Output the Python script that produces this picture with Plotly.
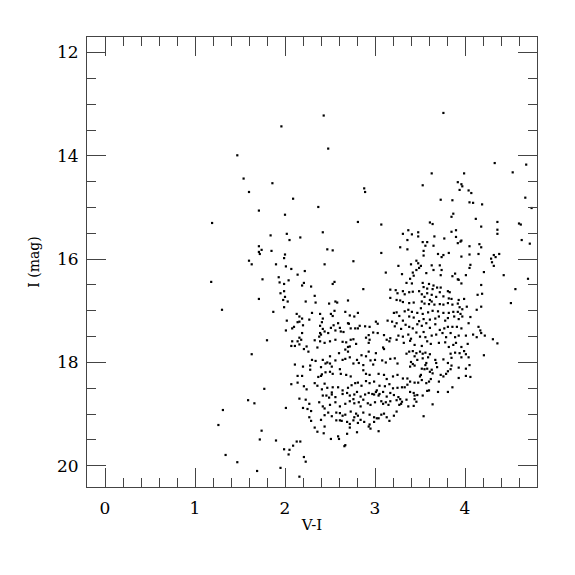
import plotly.graph_objects as go

# (V-I, I) pairs, grouped by region of the diagram
sparse_stars = [
    (1.96, 13.43), (2.43, 13.22), (3.76, 13.17),
    (1.47, 13.99), (1.54, 14.44), (1.60, 14.70), (1.71, 15.06), (1.19, 15.30),
    (1.71, 15.75), (1.74, 15.82), (1.71, 15.86), (1.72, 15.90), (1.60, 16.03),
    (1.63, 16.10), (1.75, 16.39), (1.18, 16.44), (1.71, 16.77), (1.30, 16.98),
    (1.80, 17.57), (1.63, 17.84), (1.77, 18.51), (1.59, 18.73), (1.66, 18.79),
    (1.31, 18.92), (1.26, 19.21), (1.74, 19.32), (1.72, 19.49), (1.34, 19.79),
    (1.47, 19.93), (1.69, 20.10), (1.90, 19.51), (1.95, 20.04), (2.16, 20.21),
    (3.04, 19.33),
    (2.48, 13.86), (1.86, 14.53), (2.88, 14.63), (2.89, 14.70), (2.09, 14.83),
    (2.37, 14.99), (2.00, 15.14), (2.81, 15.28), (3.07, 15.33), (2.42, 15.48),
    (1.84, 15.54), (2.02, 15.51), (2.05, 15.63), (2.17, 15.58), (2.47, 15.81),
    (2.53, 15.83), (1.85, 15.84), (2.00, 15.91), (1.99, 15.98), (3.07, 15.88),
    (1.90, 16.10), (2.01, 16.14), (2.07, 16.19), (2.44, 16.10), (2.76, 16.04),
]

upper_blue = [
    (1.93, 16.35), (1.94, 16.45), (1.99, 16.48), (2.04, 16.41), (2.14, 16.30),
    (2.22, 16.23), (2.21, 16.46), (2.19, 16.51), (2.29, 16.53), (2.55, 16.44),
    (2.53, 16.48), (3.12, 16.26), (2.87, 16.58), (3.17, 16.59), (3.23, 16.60),
    (3.25, 16.66), (1.95, 16.66), (1.99, 16.62), (2.00, 16.73), (1.98, 16.79),
    (2.03, 16.82), (2.33, 16.71), (2.34, 16.84), (2.23, 16.82), (2.49, 16.86),
    (2.56, 16.82), (2.58, 16.84), (2.70, 16.80), (3.17, 16.75), (3.24, 16.79),
    (1.99, 16.93), (1.87, 17.02), (2.13, 17.06), (2.16, 17.11), (2.19, 17.15),
    (2.16, 17.21), (2.14, 17.22), (2.02, 17.19), (2.30, 17.04), (2.27, 17.17),
    (2.39, 17.06), (2.42, 17.15), (2.41, 17.22), (2.39, 17.29), (2.51, 17.06),
    (2.55, 17.00), (2.53, 17.10), (2.67, 17.02), (2.72, 17.09), (2.81, 17.04),
    (2.77, 17.11), (2.70, 17.24), (2.71, 17.25), (2.59, 17.24), (2.54, 17.28),
    (2.62, 17.40), (2.56, 17.38), (2.61, 17.33), (2.51, 17.33), (2.65, 17.41),
    (2.73, 17.34), (2.78, 17.34), (2.81, 17.34), (2.83, 17.29), (2.89, 17.30),
    (2.94, 17.31), (3.01, 17.21), (3.03, 17.25), (3.14, 17.19), (3.19, 17.21),
    (3.21, 17.04), (3.24, 17.03), (3.27, 17.10), (3.24, 17.24), (3.22, 17.30),
    (2.01, 17.38), (2.08, 17.34), (2.10, 17.31), (2.20, 17.28), (2.19, 17.43),
    (2.16, 17.52), (2.18, 17.56), (2.14, 17.59), (2.08, 17.59), (2.16, 17.65),
    (2.11, 17.68), (2.07, 17.68), (2.24, 17.69), (2.21, 17.74), (2.26, 17.79),
    (2.39, 17.43), (2.38, 17.50), (2.40, 17.46), (2.42, 17.35), (2.44, 17.40),
    (2.48, 17.43), (2.44, 17.62), (2.39, 17.59), (2.33, 17.57), (2.36, 17.71),
    (2.50, 17.59), (2.56, 17.56), (2.64, 17.60), (2.70, 17.70), (2.72, 17.69),
    (2.68, 17.61), (2.73, 17.56), (2.76, 17.55), (2.79, 17.64), (2.90, 17.52),
    (2.93, 17.47), (2.93, 17.62), (2.98, 17.42), (3.03, 17.43), (2.94, 17.56),
    (3.10, 17.47), (3.13, 17.56), (3.16, 17.59), (3.17, 17.53), (3.24, 17.56),
    (3.26, 17.48), (3.09, 17.71), (3.10, 17.74), (3.01, 17.82), (2.93, 17.79),
    (2.90, 17.88), (2.85, 17.86), (2.80, 17.95), (2.72, 17.90), (2.70, 17.79),
    (2.67, 17.75), (2.60, 17.82), (2.56, 17.96), (2.50, 17.88), (2.47, 18.00),
    (2.45, 18.02), (2.42, 17.95), (2.34, 17.97), (2.30, 17.95), (2.28, 18.06),
    (2.20, 18.08), (2.11, 18.04), (2.61, 18.13), (2.64, 17.95), (2.67, 17.93),
    (2.76, 18.02), (2.82, 18.01), (2.87, 18.05), (2.95, 17.96), (3.00, 17.95),
    (2.98, 18.04), (3.08, 17.96), (3.12, 18.00), (3.17, 17.93), (3.22, 17.92),
    (3.25, 18.02), (2.40, 18.09), (2.50, 18.02), (2.52, 18.08),
]

lower_blue = [
    (2.28, 18.14), (2.41, 18.23), (2.45, 18.19), (2.50, 18.18), (2.53, 18.22),
    (2.37, 18.28), (2.40, 18.26), (2.62, 18.22), (2.68, 18.24), (2.73, 18.27),
    (2.87, 18.15), (2.90, 18.22), (2.94, 18.24), (3.04, 18.22), (3.10, 18.24),
    (3.13, 18.32), (3.20, 18.27), (3.25, 18.24), (2.14, 18.26), (2.19, 18.26),
    (2.14, 18.39), (2.07, 18.42), (2.21, 18.46), (2.24, 18.52), (2.33, 18.40),
    (2.36, 18.45), (2.44, 18.41), (2.41, 18.52), (2.47, 18.49), (2.53, 18.48),
    (2.52, 18.58), (2.59, 18.48), (2.64, 18.54), (2.70, 18.49), (2.74, 18.44),
    (2.78, 18.40), (2.81, 18.39), (2.85, 18.45), (2.90, 18.36), (2.94, 18.40),
    (2.99, 18.37), (3.05, 18.45), (3.11, 18.46), (3.16, 18.42), (3.20, 18.50),
    (3.25, 18.49), (2.42, 18.64), (2.46, 18.64), (2.49, 18.68), (2.52, 18.62),
    (2.56, 18.67), (2.64, 18.61), (2.69, 18.59), (2.72, 18.64), (2.77, 18.62),
    (2.80, 18.57), (2.84, 18.66), (2.89, 18.62), (2.93, 18.59), (2.97, 18.61),
    (2.99, 18.62), (3.01, 18.57), (3.02, 18.54), (3.04, 18.64), (3.05, 18.61),
    (3.09, 18.57), (3.13, 18.66), (3.17, 18.59), (3.21, 18.63), (3.26, 18.67),
    (2.16, 18.70), (2.23, 18.72), (2.27, 18.80), (2.20, 18.88), (2.25, 18.90),
    (2.29, 18.94), (2.38, 18.77), (2.42, 18.85), (2.44, 18.89), (2.50, 18.82),
    (2.56, 18.77), (2.61, 18.85), (2.67, 18.80), (2.72, 18.75), (2.76, 18.71),
    (2.77, 18.79), (2.82, 18.77), (2.84, 18.85), (2.87, 18.72), (2.92, 18.79),
    (2.95, 18.82), (3.00, 18.77), (3.07, 18.75), (3.09, 18.80), (3.12, 18.77),
    (3.15, 18.82), (3.17, 18.75), (3.24, 18.73), (3.27, 18.82), (2.01, 18.88),
    (2.27, 19.06), (2.29, 19.13), (2.40, 19.11), (2.44, 19.02), (2.48, 18.97),
    (2.52, 19.04), (2.57, 18.97), (2.61, 18.98), (2.64, 19.03), (2.67, 19.01),
    (2.73, 18.95), (2.77, 19.06), (2.79, 18.99), (2.81, 19.03), (2.87, 18.97),
    (2.94, 19.01), (2.99, 19.06), (3.04, 19.08), (3.07, 19.01), (3.10, 18.99),
    (3.13, 19.06), (3.16, 19.13), (3.21, 19.03), (3.24, 18.95), (2.57, 19.12),
    (2.63, 19.13), (2.69, 19.15), (2.72, 19.19), (2.76, 19.12), (2.81, 19.17),
    (2.84, 19.11), (2.88, 19.15), (2.94, 19.20), (2.95, 19.28), (2.93, 19.24),
    (2.99, 19.15), (3.02, 19.08), (2.72, 19.26), (2.80, 19.35), (2.69, 19.38),
    (2.61, 19.12), (2.33, 19.26), (2.36, 19.34), (2.44, 19.24), (2.43, 19.37),
    (2.51, 19.48), (2.59, 19.43), (2.60, 19.48), (2.67, 19.60), (2.66, 19.62),
    (2.13, 19.53), (2.17, 19.53), (2.09, 19.61), (2.05, 19.69), (1.99, 19.68),
    (2.04, 19.78), (2.21, 19.83), (2.23, 19.92),
]

red_upper = [
    (4.33, 14.14), (4.68, 14.17), (3.63, 14.34), (3.99, 14.34), (4.53, 14.32),
    (3.92, 14.51), (3.96, 14.55), (3.97, 14.59), (3.53, 14.57), (3.94, 14.66),
    (4.04, 14.67), (4.07, 14.72), (4.67, 14.81), (3.73, 14.85), (3.86, 14.86),
    (4.05, 14.90), (4.09, 14.91), (4.19, 14.94), (4.74, 15.01), (3.87, 15.12),
    (3.85, 15.18), (4.12, 15.22), (3.61, 15.29), (3.64, 15.32), (4.36, 15.28),
    (4.60, 15.31), (4.62, 15.33), (4.18, 15.37), (3.37, 15.44), (3.90, 15.44),
    (3.85, 15.47), (4.36, 15.43), (3.31, 15.51), (3.41, 15.52), (3.48, 15.48),
    (4.36, 15.51), (3.66, 15.56), (3.48, 15.56), (3.90, 15.57), (3.77, 15.60),
    (3.36, 15.63), (3.96, 15.64), (3.95, 15.66), (3.92, 15.69), (3.53, 15.67),
    (3.58, 15.67), (3.56, 15.74), (3.65, 15.74), (4.63, 15.63), (4.72, 15.70),
    (3.28, 15.77), (3.36, 15.81), (4.05, 15.75), (4.16, 15.71), (4.18, 15.77),
    (3.54, 15.84), (3.82, 15.88), (3.70, 15.90), (3.76, 15.92), (4.05, 15.91),
    (4.15, 15.90), (4.32, 15.92), (4.38, 15.90), (3.54, 15.93), (3.74, 15.96),
    (3.96, 15.95), (4.29, 15.99), (4.34, 15.96),
]

red_middle = [
    (4.30, 16.06), (4.32, 16.13), (3.46, 16.03), (3.48, 16.08), (3.40, 16.10),
    (3.51, 16.13), (3.49, 16.17), (3.63, 16.12), (3.72, 16.12), (3.65, 16.21),
    (3.74, 16.21), (3.57, 16.27), (3.46, 16.21), (3.42, 16.26), (3.26, 16.13),
    (3.30, 16.29), (4.06, 16.11), (4.05, 16.17), (4.21, 16.25), (4.43, 16.31),
    (4.70, 16.38), (3.43, 16.32), (3.73, 16.31), (3.86, 16.33), (3.89, 16.28),
    (3.92, 16.39), (4.01, 16.31), (3.96, 16.47), (3.93, 16.40), (3.39, 16.38),
    (3.41, 16.47), (3.35, 16.46), (3.53, 16.46), (3.60, 16.48), (3.65, 16.51),
    (3.54, 16.54), (3.58, 16.57), (3.64, 16.58), (3.69, 16.55), (3.73, 16.55),
    (3.81, 16.62), (3.83, 16.64), (3.72, 16.64), (4.18, 16.50), (4.56, 16.58),
    (3.31, 16.62), (3.33, 16.68), (3.38, 16.64), (3.42, 16.63), (3.49, 16.62),
    (3.52, 16.68), (3.58, 16.66), (3.63, 16.69), (3.55, 16.73), (3.61, 16.79),
    (3.63, 16.82), (3.68, 16.73), (3.76, 16.72), (3.82, 16.76), (3.85, 16.77),
    (3.93, 16.79), (3.99, 16.77), (4.14, 16.69), (4.19, 16.67), (4.51, 16.85),
    (3.28, 16.80), (3.31, 16.83), (3.38, 16.85), (3.43, 16.84), (3.52, 16.82),
    (3.55, 16.86), (3.60, 16.87), (3.66, 16.88), (3.72, 16.87), (3.76, 16.88),
    (3.81, 16.85), (3.86, 16.88), (3.92, 16.86), (3.94, 16.93), (3.97, 16.97),
    (4.02, 16.92), (4.13, 16.98), (4.18, 16.92), (3.33, 17.01), (3.37, 16.98),
    (3.41, 17.02), (3.47, 17.04), (3.51, 16.95), (3.53, 17.06), (3.59, 17.03),
    (3.64, 17.00), (3.70, 17.01), (3.76, 17.04), (3.82, 17.04), (3.87, 17.02),
    (3.92, 17.02), (3.95, 17.06), (4.06, 17.12), (3.31, 17.19), (3.38, 17.11),
    (3.43, 17.13), (3.49, 17.20), (3.54, 17.16), (3.61, 17.17), (3.67, 17.15),
    (3.71, 17.11), (3.78, 17.19), (3.81, 17.14), (3.88, 17.11), (3.93, 17.16),
    (3.97, 17.11), (3.29, 17.35), (3.34, 17.27), (3.38, 17.31), (3.42, 17.34),
    (3.47, 17.26), (3.52, 17.29), (3.57, 17.24), (3.61, 17.33), (3.67, 17.26),
    (3.72, 17.37), (3.77, 17.34), (3.81, 17.31), (3.86, 17.31), (3.91, 17.31),
    (3.96, 17.34), (4.04, 17.24), (4.15, 17.31), (4.17, 17.38), (4.18, 17.43),
    (4.09, 17.46), (4.13, 17.51), (4.22, 17.48), (4.31, 17.55), (4.36, 17.63),
    (3.31, 17.50), (3.37, 17.46), (3.40, 17.54), (3.46, 17.42), (3.50, 17.50),
    (3.54, 17.41), (3.56, 17.51), (3.63, 17.48), (3.68, 17.46), (3.75, 17.43),
    (3.79, 17.51), (3.84, 17.43), (3.89, 17.51), (3.93, 17.48), (4.01, 17.48),
    (3.32, 17.62), (3.39, 17.58), (3.44, 17.66), (3.52, 17.68), (3.58, 17.59),
    (3.62, 17.64), (3.71, 17.62), (3.78, 17.61), (3.82, 17.70), (3.87, 17.66),
    (3.90, 17.62), (3.96, 17.70), (4.03, 17.64),
]

red_lower = [
    (3.35, 17.83), (3.38, 17.79), (3.42, 17.78), (3.46, 17.82), (3.50, 17.79),
    (3.53, 17.83), (3.56, 17.81), (3.59, 17.90), (3.61, 17.84), (3.44, 17.88),
    (3.40, 17.99), (3.42, 18.03), (3.39, 18.08), (3.44, 18.06), (3.47, 17.95),
    (3.53, 17.92), (3.57, 18.01), (3.56, 18.05), (3.52, 18.12), (3.55, 18.13),
    (3.58, 18.12), (3.61, 18.18), (3.63, 18.14), (3.67, 17.95), (3.68, 18.01),
    (3.69, 18.09), (3.76, 17.94), (3.81, 18.01), (3.84, 17.83), (3.85, 17.91),
    (3.89, 17.81), (3.94, 17.82), (3.96, 17.90), (3.99, 17.78), (4.01, 17.84),
    (4.04, 17.90), (4.05, 18.05), (4.01, 18.12), (3.93, 18.10), (3.85, 18.06),
    (3.84, 18.13), (3.81, 18.17), (3.79, 18.22), (3.73, 18.24), (3.76, 18.27),
    (3.71, 18.37), (3.64, 18.21), (3.62, 18.32), (3.60, 18.37), (3.57, 18.40),
    (3.52, 18.34), (3.51, 18.24), (3.50, 18.27), (3.48, 18.39), (3.44, 18.39),
    (3.39, 18.37), (3.36, 18.31), (3.31, 18.31), (3.30, 18.48), (3.33, 18.48),
    (3.36, 18.43), (3.39, 18.57), (3.43, 18.59), (3.44, 18.64), (3.47, 18.63),
    (3.44, 18.71), (3.46, 18.76), (3.43, 18.84), (3.37, 18.85), (3.28, 18.71),
    (3.30, 18.76), (3.29, 18.80), (3.35, 18.72), (3.53, 18.64), (3.58, 18.55),
    (3.60, 18.54), (3.70, 18.57), (3.81, 18.57), (3.86, 18.48), (3.93, 18.30),
    (4.01, 18.26), (4.06, 18.28), (4.21, 17.86), (3.64, 18.81), (3.54, 19.04),
]

groups = [sparse_stars, upper_blue, lower_blue, red_upper, red_middle, red_lower]
color_vi = [p[0] for g in groups for p in g]
mag_i = [p[1] for g in groups for p in g]

x_ticks = [0, 1, 2, 3, 4]
y_ticks = [12, 14, 16, 18, 20]

font_family = "DejaVu Serif"
axis_color = "#444444"

fig = go.Figure(
    go.Scatter(
        x=color_vi, y=mag_i, mode="markers",
        marker=dict(size=2.2, color="black", symbol="square", line=dict(width=0)),
        hoverinfo="skip",
    )
)

common = dict(
    showline=True, linecolor=axis_color, linewidth=1, mirror="ticks",
    ticks="inside", tickcolor=axis_color, tickwidth=1, ticklen=19,
    showgrid=False, zeroline=False, automargin=False,
    tickfont=dict(family=font_family, size=17, color="black"),
)

fig.update_xaxes(
    range=[-0.2, 4.8], tickvals=x_ticks, ticktext=[str(v) for v in x_ticks],
    minor=dict(dtick=0.2, tick0=0, ticks="inside", ticklen=9, tickcolor=axis_color, showgrid=False),
    title=dict(text="V-I", font=dict(family=font_family, size=15, color="black"), standoff=2),
    ticklabelstandoff=6,
    **common,
)
fig.update_yaxes(
    range=[20.41, 11.70], tickvals=y_ticks, ticktext=[str(v) for v in y_ticks],
    minor=dict(dtick=0.5, tick0=0, ticks="inside", ticklen=9, tickcolor=axis_color, showgrid=False),
    title=dict(text="I (mag)", font=dict(family=font_family, size=14, color="black"), standoff=14),
    ticklabelstandoff=4,
    **common,
)

# the page adds an 8px body margin, so the margins are shifted to keep the frame in place
fig.update_layout(
    width=575, height=575,
    margin=dict(l=79, r=46, t=29, b=96),
    paper_bgcolor="white", plot_bgcolor="white",
    showlegend=False,
)

fig.write_html("out.html")
